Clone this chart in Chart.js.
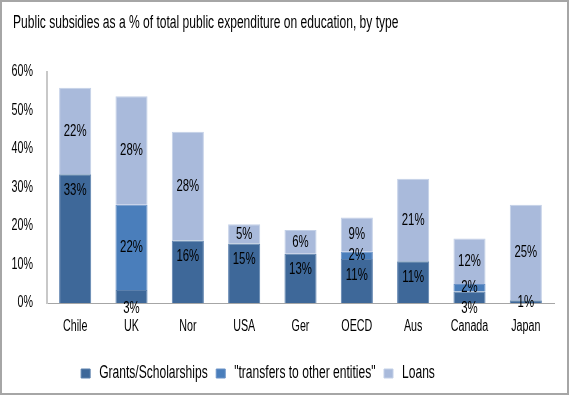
<!DOCTYPE html>
<html>
<head>
<meta charset="utf-8">
<script src="https://cdn.jsdelivr.net/npm/chart.js@4/dist/chart.umd.min.js"></script>
<style>
  html, body { margin: 0; padding: 0; background: #fff; }
  #wrap { width: 569px; height: 395px; box-sizing: border-box; border: 2px solid #a6a6a6; background: #fff; }
</style>
</head>
<body>
<div id="wrap"><canvas id="myChart" width="565" height="391"></canvas></div>
<script>
// categories and series (percent of public expenditure)
var countries = ['Chile', 'UK', 'Nor', 'USA', 'Ger', 'OECD', 'Aus', 'Canada', 'Japan'];
var grants    = [33.4, 3.4, 16.2, 15.4, 12.8, 11.4, 10.8, 3.0, 0.7];
var transfers = [0, 22.1, 0, 0, 0, 1.9, 0, 1.9, 0];
var loans     = [22.4, 28.1, 28.2, 5.0, 6.1, 8.9, 21.4, 11.8, 24.8];
var yTicks    = [0, 10, 20, 30, 40, 50, 60];

var FONT = '"Liberation Sans", Arial, sans-serif';
var SX = 0.67; // horizontal squeeze to get the condensed look of the original font

// squeeze all canvas text horizontally (no condensed font is installed)
var canvas = document.getElementById('myChart');
var ctx2d = canvas.getContext('2d');
var origFill = ctx2d.fillText.bind(ctx2d);
var origMeasure = ctx2d.measureText.bind(ctx2d);
ctx2d.fillText = function(t, x, y, mw) {
  ctx2d.save();
  ctx2d.translate(x, y);
  ctx2d.scale(SX, 1);
  if (mw !== undefined) origFill(t, 0, 0, mw / SX); else origFill(t, 0, 0);
  ctx2d.restore();
};
ctx2d.measureText = function(t) {
  var m = origMeasure(t);
  return { width: m.width * SX,
           actualBoundingBoxAscent: m.actualBoundingBoxAscent,
           actualBoundingBoxDescent: m.actualBoundingBoxDescent,
           actualBoundingBoxLeft: m.actualBoundingBoxLeft * SX,
           actualBoundingBoxRight: m.actualBoundingBoxRight * SX };
};

// draws the % value on each segment
var segLabels = {
  id: 'segLabels',
  afterDatasetsDraw: function(chart) {
    var ctx = chart.ctx;
    ctx.save();
    ctx.font = '17px ' + FONT;
    ctx.fillStyle = '#000';
    ctx.textAlign = 'center';
    ctx.textBaseline = 'middle';
    chart.data.datasets.forEach(function(ds, di) {
      var meta = chart.getDatasetMeta(di);
      meta.data.forEach(function(bar, i) {
        var v = ds.data[i];
        if (!v) return;
        var txt = Math.round(v) + '%';
        var h = Math.abs(bar.base - bar.y);
        var y = (bar.y + bar.base) / 2;
        if (di === 0) {
          if (h < 16) y = v >= 2 ? bar.base + 5 : bar.base - 1;
          else y = bar.y + 16;
        }
        ctx.fillText(txt, bar.x, y);
      });
    });
    ctx.restore();
  }
};

// nudge the legend a bit left and the title in from the edge, like the original
var boxShift = {
  id: 'boxShift',
  afterLayout: function(chart) {
    chart.legend.left -= 20;
    chart.legend.right -= 20;
    chart.titleBlock.left += 11;
    chart.titleBlock.right += 11;
  }
};

var chart = new Chart(canvas, {
  type: 'bar',
  data: {
    labels: countries,
    datasets: [
      { label: 'Grants/Scholarships', data: grants, backgroundColor: '#3e6899', borderColor: '#5b80ad', borderWidth: 1 },
      { label: '"transfers to other entities"', data: transfers, backgroundColor: '#4a7ebb', borderColor: '#6a92c7', borderWidth: 1 },
      { label: 'Loans', data: loans, backgroundColor: '#a9badb', borderColor: '#c3d0e7', borderWidth: 1 }
    ]
  },
  options: {
    responsive: false,
    animation: false,
    layout: { padding: { left: 0, right: 13, top: 0, bottom: 0.5 } },
    datasets: { bar: { barPercentage: 0.57, categoryPercentage: 1.0 } },
    scales: {
      x: {
        stacked: true,
        grid: { display: false, drawTicks: false },
        border: { color: '#a6a6a6', width: 1 },
        ticks: { color: '#000', font: { family: FONT, size: 16 }, padding: 14, maxRotation: 0, autoSkip: false },
        afterFit: function(axis) { axis.height = 53; }
      },
      y: {
        stacked: true,
        min: 0, max: 60,
        afterBuildTicks: function(axis) { axis.ticks = yTicks.map(function(v) { return { value: v }; }); },
        grid: { display: false, drawTicks: false },
        border: { color: '#c8c8c8', width: 2 },
        ticks: { color: '#000', font: { family: FONT, size: 16 }, padding: 14,
                 callback: function(v) { return v + '%'; } },
        afterFit: function(axis) { axis.width = 45; }
      }
    },
    plugins: {
      title: {
        display: true, align: 'start', color: '#000',
        text: 'Public subsidies as a % of total public expenditure on education, by type',
        font: { family: FONT, size: 18, weight: 'normal' },
        padding: { top: 10, bottom: 38 }
      },
      legend: {
        position: 'bottom',
        labels: { color: '#000', boxWidth: 9, boxHeight: 9, padding: 8.5,
                  font: { family: FONT, size: 18 } }
      },
      tooltip: { enabled: false }
    }
  },
  plugins: [segLabels, boxShift]
});
</script>
</body>
</html>
